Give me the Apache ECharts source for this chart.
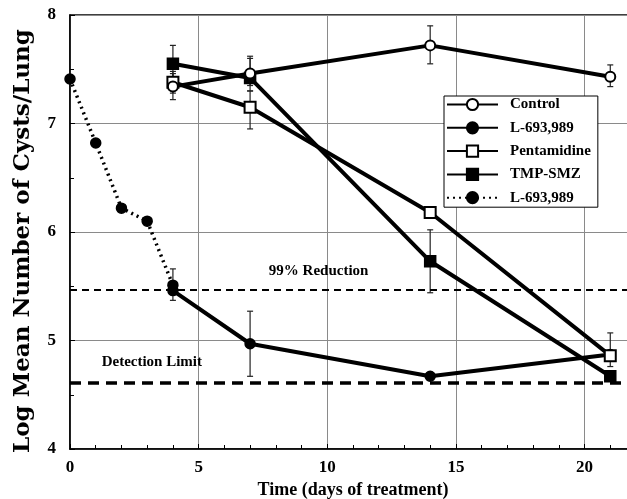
<!DOCTYPE html>
<html><head><meta charset="utf-8">
<script src="https://cdn.jsdelivr.net/npm/echarts@6/dist/echarts.min.js"></script>
<style>html,body{margin:0;padding:0;background:#fff}#c{width:627px;height:499px}</style>
</head><body><div id="c"></div>
<script>
// ---- data ----
var days = [4, 7, 14, 21];
var controlVals = [7.34, 7.46, 7.72, 7.43];
var controlLow  = [7.22, 7.35, 7.55, 7.34];
var controlHigh = [7.46, 7.60, 7.90, 7.54];
var l693Vals = [5.46, 4.97, 4.67, 4.87];
var l693Low  = [5.37, 4.67, null, null];
var l693High = [5.66, 5.27, null, null];
var pentVals = [7.38, 7.15, 6.18, 4.86];
var pentLow  = [7.28, 6.95, null, 4.76];
var pentHigh = [7.48, 7.30, null, 5.07];
var tmpVals = [7.55, 7.42, 5.73, 4.67];
var tmpLow  = [7.38, 7.30, 5.44, null];
var tmpHigh = [7.72, 7.62, 6.02, null];
var earlyDays = [0, 1, 2, 3, 4];
var earlyVals = [7.41, 6.82, 6.22, 6.10, 5.51];
var reductionLevel = 5.47;
var detectionLevel = 4.61;
var seriesNames = ['Control', 'L-693,989', 'Pentamidine', 'TMP-SMZ', 'L-693,989 '];
var xTicks = [0, 5, 10, 15, 20];
var yTicks = [4, 5, 6, 7, 8];

function pairs(xs, ys){ return xs.map(function(x,i){return [x, ys[i]];}); }
function errs(xs, lo, hi){
  var out = [];
  xs.forEach(function(x,i){ if (lo[i] != null) out.push([x, lo[i], hi[i]]); });
  return out;
}
var serif = 'Liberation Serif, Times New Roman, serif';

function errSeries(data){
  return {
    type: 'custom', silent: true, z: 1,
    data: data,
    renderItem: function(params, api){
      var top = api.coord([api.value(0), api.value(2)]);
      var bot = api.coord([api.value(0), api.value(1)]);
      var st = {stroke: '#222', lineWidth: 1.2};
      return {type: 'group', children: [
        {type:'line', shape:{x1:top[0], y1:top[1], x2:bot[0], y2:bot[1]}, style: st},
        {type:'line', shape:{x1:top[0]-3, y1:top[1], x2:top[0]+3, y2:top[1]}, style: st},
        {type:'line', shape:{x1:bot[0]-3, y1:bot[1], x2:bot[0]+3, y2:bot[1]}, style: st}
      ]};
    }
  };
}
function lineSeries(name, data, symbol, size, dotted){
  return {
    name: name, type: 'line', data: data, z: 3,
    symbol: symbol, symbolSize: size,
    lineStyle: {color: '#000', width: dotted ? 3.5 : 4, type: dotted ? [2, 4] : 'solid'},
    itemStyle: {color: '#000', borderColor: '#000', borderWidth: 1.5},
    emphasis: {disabled: true},
    animation: false
  };
}

var chart = echarts.init(document.getElementById('c'), null, {renderer: 'canvas'});
var option = {
  animation: false,
  grid: {left: 70, top: 15, width: 566, height: 434, outerBoundsMode: 'none', containLabel: false,
    show: true, borderColor: '#000', borderWidth: 1.5, backgroundColor: 'transparent'},
  xAxis: {
    type: 'value', min: 0, max: 22, interval: 5,
    name: 'Time (days of treatment)', nameLocation: 'middle', nameGap: 28,
    nameTextStyle: {fontFamily: serif, fontWeight: 'bold', fontSize: 18, color: '#000'},
    axisLine: {lineStyle: {color: '#000', width: 1.5}},
    axisTick: {inside: true, length: 5, lineStyle: {color: '#000'}},
    minorTick: {show: true, splitNumber: 5, length: 4, lineStyle: {color: '#000'}},
    splitLine: {show: true, lineStyle: {color: '#8a8a8a', width: 1}},
    axisLabel: {showMaxLabel: false, margin: 10, fontFamily: serif, fontWeight: 'bold', fontSize: 17, color: '#000',
      formatter: function(v){ return xTicks.indexOf(v) >= 0 ? String(v) : ''; }}
  },
  yAxis: {
    type: 'value', min: 4, max: 8, interval: 1,
    name: 'Log Mean Number of Cysts/Lung', nameLocation: 'middle', nameGap: 35,
    nameTextStyle: {fontFamily: 'DejaVu Serif, serif', fontWeight: 'bold', fontSize: 23, color: '#000', padding: [0, 18, 0, 0]},
    axisLine: {lineStyle: {color: '#000', width: 1.5}},
    axisTick: {inside: true, length: 5, lineStyle: {color: '#000'}},
    minorTick: {show: true, splitNumber: 2, length: 4, lineStyle: {color: '#000'}},
    splitLine: {show: true, lineStyle: {color: '#8a8a8a', width: 1}},
    axisLabel: {margin: 14, fontFamily: serif, fontWeight: 'bold', fontSize: 17, color: '#000',
      formatter: function(v){ return yTicks.indexOf(v) >= 0 ? String(v) : ''; }}
  },
  legend: {
    data: seriesNames, orient: 'vertical', left: 444, top: 96,
    itemWidth: 51, itemHeight: 14, itemGap: 8.3,
    padding: [1, 7, 2, 2],
    backgroundColor: '#fff', borderColor: '#000', borderWidth: 1,
    selectedMode: false,
    textStyle: {fontFamily: serif, fontWeight: 'bold', fontSize: 15, color: '#000', padding: [0, 0, 0, 7]}
  },
  series: [
    errSeries(errs(days, controlLow, controlHigh)),
    errSeries(errs(days, l693Low, l693High)),
    errSeries(errs(days, pentLow, pentHigh)),
    errSeries(errs(days, tmpLow, tmpHigh)),
    {
      type: 'line', data: [], silent: true,
      markLine: {
        silent: true, symbol: 'none', animation: false,
        label: {show: false},
        data: [
          {yAxis: reductionLevel, lineStyle: {color: '#000', width: 2, type: [7, 5]}},
          {yAxis: detectionLevel, lineStyle: {color: '#000', width: 3.5, type: [11, 7]}}
        ]
      }
    },
    lineSeries(seriesNames[4], pairs(earlyDays, earlyVals), 'circle', 10, true),
    lineSeries(seriesNames[1], pairs(days, l693Vals), 'circle', 10, false),
    lineSeries(seriesNames[3], pairs(days, tmpVals), 'rect', 11, false),
    lineSeries(seriesNames[2], pairs(days, pentVals), 'emptyRect', 11, false),
    lineSeries(seriesNames[0], pairs(days, controlVals), 'emptyCircle', 10, false)
  ]
};
chart.setOption(option);

var p1 = chart.convertToPixel({gridIndex: 0}, [7.73, 5.64]);
var p2 = chart.convertToPixel({gridIndex: 0}, [1.23, 4.80]);
chart.setOption({
  graphic: [
    {type: 'text', x: p1[0], y: p1[1], z: 10, style: {text: '99% Reduction', fontFamily: serif, fontWeight: 'bold', fontSize: 15, fill: '#000', textVerticalAlign: 'middle', textAlign: 'left'}},
    {type: 'text', x: p2[0], y: p2[1], z: 10, style: {text: 'Detection Limit', fontFamily: serif, fontWeight: 'bold', fontSize: 15, fill: '#000', textVerticalAlign: 'middle', textAlign: 'left'}}
  ]
});
</script></body></html>
